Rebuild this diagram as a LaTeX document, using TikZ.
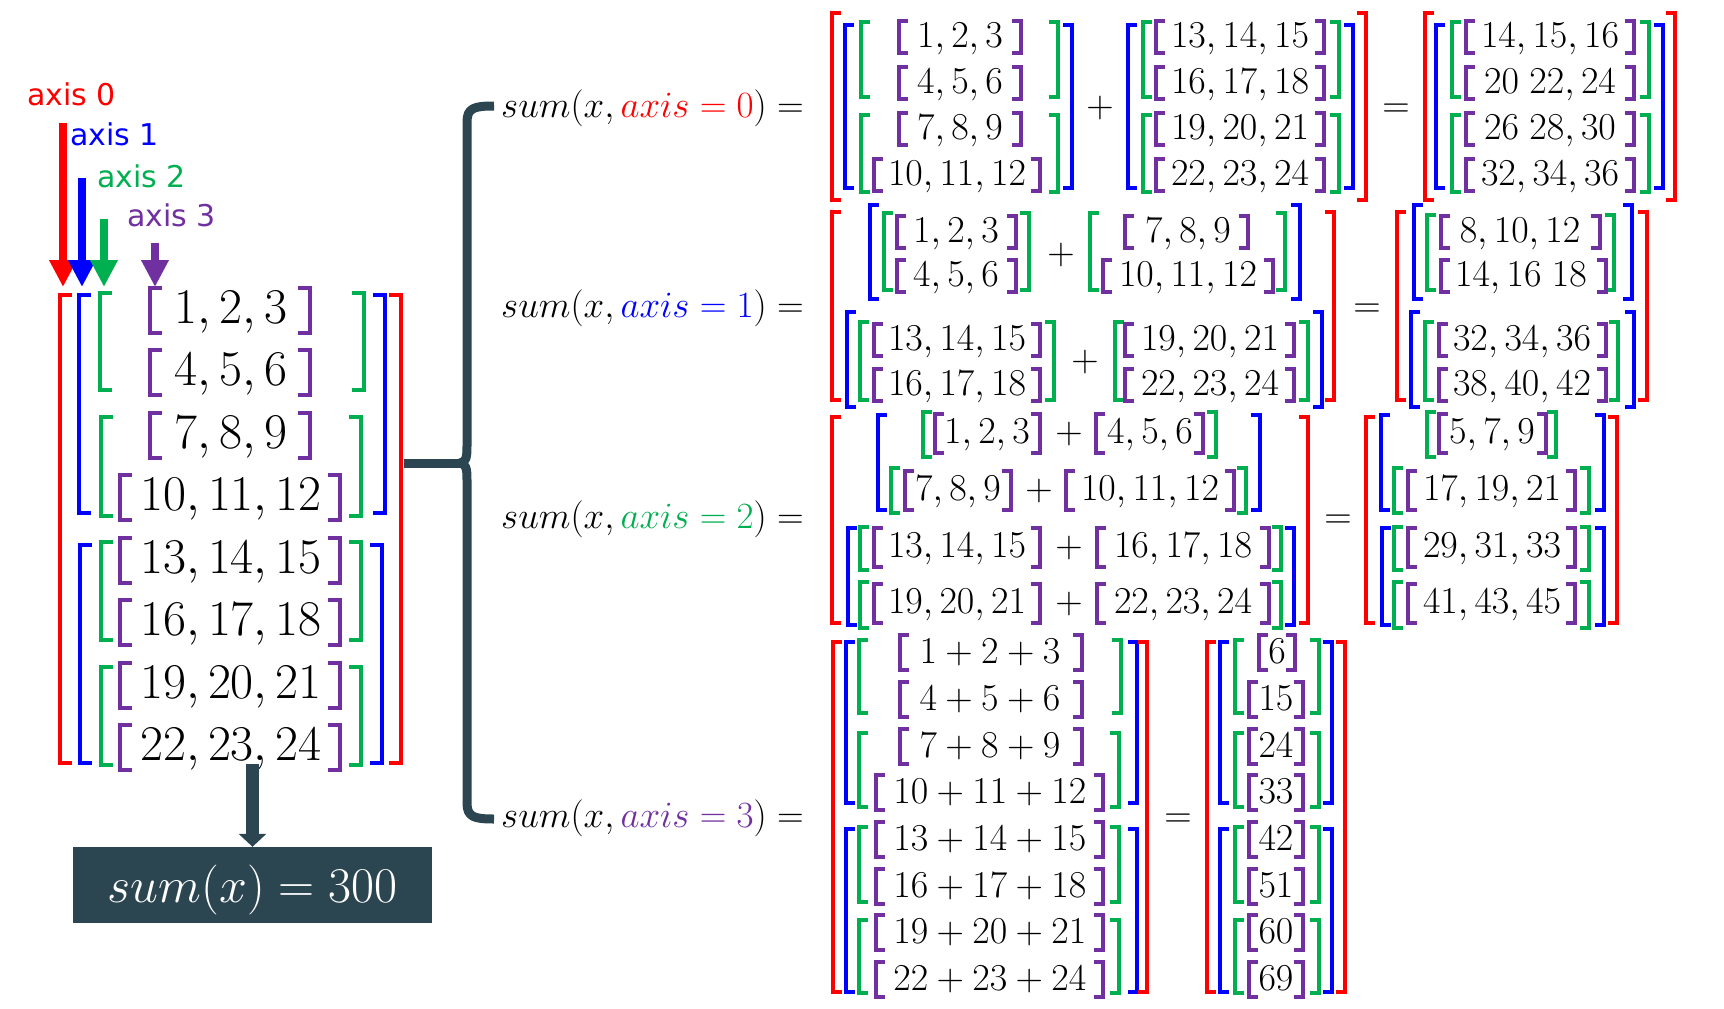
\RequirePackage{fix-cm}
\documentclass[tikz,border=0pt]{standalone}
\usepackage{fontspec}
\newfontfamily\axfont{DejaVu Sans}
\usetikzlibrary{arrows.meta,fit}
\definecolor{ar}{HTML}{FF0000}
\definecolor{ab}{HTML}{0000FF}
\definecolor{ag}{HTML}{00B050}
\definecolor{ap}{HTML}{7030A0}
\definecolor{dk}{HTML}{2B4650}
\newcommand\srl{9}
\newcommand\PUext{26}
\newcommand\PDext{6}
\newcommand\BrL[4]{\draw[#1] ({#2+\srl},{#3}) -- ({#2},{#3}) -- ({#2},{#4}) -- ({#2+\srl},{#4});}
\newcommand\BrR[4]{\draw[#1] ({#2-\srl},{#3}) -- ({#2},{#3}) -- ({#2},{#4}) -- ({#2-\srl},{#4});}
\newcommand\BrP[5]{\BrL{#1}{#2}{#4}{#5}\BrR{#1}{#3}{#4}{#5}}
% name, xl, xr, xc, baseline, content
\newcommand\PR[6]{\BrP{bk,ap}{#2}{#3}{#5-\PUext}{#5+\PDext}\node[num] (#1) at (#4,#5) {$#6$};}
\newcommand\lab[4]{\node[lbl] (#1) at (501,#2) {$sum(x,\textcolor{#3}{axis=#4})=$};}
\begin{document}
\begin{tikzpicture}[x=1pt,y=-1pt,
  bk/.style={line width=3.2pt,line join=miter},
  num/.style={anchor=base,inner sep=0pt,font=\fontsize{38}{40}\selectfont},
  lbl/.style={anchor=base west,inner sep=0pt,font=\fontsize{37}{40}\selectfont},
  axl/.style={anchor=base west,inner sep=0pt,font=\axfont\fontsize{30}{32}\selectfont},
  axarr/.style={line width=8pt,-{Triangle[width=26pt,length=27pt]}},
  dkline/.style={dk,line width=9pt}]
\fill[white] (0,0) rectangle (1724,1009);
\useasboundingbox (0,0) rectangle (1724,1009);

% ---------------- left tensor ----------------
\begin{scope}[bk/.style={line width=4.5pt,line join=miter},
  num/.style={anchor=base,inner sep=0pt,font=\fontsize{50}{52}\selectfont}]
\renewcommand\srl{12}\renewcommand\PUext{35}\renewcommand\PDext{10}
\BrP{bk,ar}{60}{401}{295}{763}
\BrP{bk,ab}{79}{385}{295}{513}
\BrP{bk,ab}{80}{382}{545}{763}
\BrP{bk,ag}{100}{364}{293}{390}
\BrP{bk,ag}{101}{361}{417}{516}
\BrP{bk,ag}{101}{361}{542}{640}
\BrP{bk,ag}{101}{361}{667}{765}
\PR{m1}{150}{310}{231}{323}{1,2,3}
\PR{m2}{150}{310}{231}{385}{4,5,6}
\PR{m3}{150}{310}{231}{448}{7,8,9}
\PR{m4}{120}{340}{231}{510}{10,11,12}
\PR{m5}{120}{340}{231}{573}{13,14,15}
\PR{m6}{120}{340}{231}{635}{16,17,18}
\PR{m7}{120}{340}{231}{698}{19,20,21}
\PR{m8}{120}{340}{231}{760}{22,23,24}
\end{scope}
\coordinate (matnw) at (56,286);
\coordinate (matse) at (404,764);
\node[fit=(matnw)(matse),inner sep=0pt] (mat) {};

% axis labels and arrows
\node[axl,ar] (l0) at (27,105) {axis 0};
\node[axl,ab] (l1) at (70,145) {axis 1};
\node[axl,ag] (l2) at (97,187) {axis 2};
\node[axl,ap] (l3) at (127,226) {axis 3};
\coordinate (a0s) at (63,123);  \coordinate (a0e) at (63,287);
\coordinate (a1s) at (82,178);  \coordinate (a1e) at (82,287);
\coordinate (a2s) at (104,219); \coordinate (a2e) at (104,287);
\coordinate (a3s) at (155,243); \coordinate (a3e) at (155,287);
\draw[axarr,ar] (a0s) -- (a0e);
\draw[axarr,ab] (a1s) -- (a1e);
\draw[axarr,ag] (a2s) -- (a2e);
\draw[axarr,ap] (a3s) -- (a3e);

% sum box
\node[fill=dk,minimum width=359pt,minimum height=76pt,inner sep=0pt] (sumbox) at (252.5,885) {};
\node[anchor=base,inner sep=0pt,text=white,font=\fontsize{50}{52}\selectfont] (sumtext) at (252.5,902) {$sum(x)=300$};
\draw[dk,line width=13pt,-{Triangle[width=27pt,length=13pt]}] (sumbox.north |- mat.south) -- (sumbox.north);

% brace connector
\coordinate (cusp) at (460,463);
\draw[dkline] (mat.east |- cusp) -- (cusp);
\draw[dkline,line join=round] (494,106) .. controls (474,106) and (467,108) .. (467,122)
  -- (467,446) .. controls (467,458) and (466,462) .. (cusp)
  .. controls (466,464) and (467,468) .. (467,480)
  -- (467,803) .. controls (467,817) and (474,819) .. (494,819);

% ---------------- axis 0 ----------------
\lab{s0}{117}{ar}{0}
\BrL{bk,ar}{832}{13}{200}
\BrL{bk,ab}{845}{25}{188}
\BrL{bk,ag}{861}{22}{97}
\BrL{bk,ag}{861}{115}{192}
\PR{a0a}{899}{1021}{960}{47}{1,2,3}
\PR{a0b}{899}{1021}{960}{93}{4,5,6}
\PR{a0c}{899}{1021}{960}{139}{7,8,9}
\PR{a0d}{874}{1040}{957}{185}{10,11,12}
\BrR{bk,ag}{1058}{22}{97}
\BrR{bk,ag}{1058}{115}{192}
\BrR{bk,ab}{1072}{25}{188}
\node[num] (p0) at (1100,117) {$+$};
\BrP{bk,ab}{1128}{1353}{25}{188}
\BrP{bk,ag}{1143}{1339}{22}{97}
\BrP{bk,ag}{1143}{1339}{115}{192}
\PR{a0e}{1156}{1324}{1240}{47}{13,14,15}
\PR{a0f}{1156}{1324}{1240}{93}{16,17,18}
\PR{a0g}{1156}{1324}{1240}{139}{19,20,21}
\PR{a0h}{1156}{1324}{1240}{185}{22,23,24}
\BrR{bk,ar}{1366}{13}{200}
\node[num] (q0) at (1396,117) {$=$};
\BrP{bk,ar}{1425}{1675}{13}{200}
\BrP{bk,ab}{1436}{1663}{25}{188}
\BrP{bk,ag}{1452}{1649}{22}{97}
\BrP{bk,ag}{1452}{1649}{115}{192}
\PR{r0a}{1466}{1634}{1550}{47}{14,15,16}
\PR{r0b}{1466}{1634}{1550}{93}{20\;22,24}
\PR{r0c}{1466}{1634}{1550}{139}{26\;28,30}
\PR{r0d}{1466}{1634}{1550}{185}{32,34,36}

% ---------------- axis 1 ----------------
\lab{s1}{317}{ab}{1}
\BrL{bk,ar}{832}{212}{400}
\BrL{bk,ab}{870}{205}{299}
\BrL{bk,ag}{884}{213}{290}
\PR{a1a}{897}{1016}{956}{242}{1,2,3}
\PR{a1b}{897}{1016}{956}{286}{4,5,6}
\BrR{bk,ag}{1029}{213}{290}
\node[num] (p1a) at (1061,264) {$+$};
\BrL{bk,ag}{1090}{213}{290}
\PR{a1c}{1125}{1248}{1188}{242}{7,8,9}
\PR{a1d}{1103}{1273}{1188}{286}{10,11,12}
\BrR{bk,ag}{1285}{213}{290}
\BrR{bk,ab}{1300}{205}{299}
\BrL{bk,ab}{847}{312}{407}
\BrL{bk,ag}{860}{322}{400}
\PR{a1e}{874}{1040}{957}{350}{13,14,15}
\PR{a1f}{874}{1040}{957}{395}{16,17,18}
\BrR{bk,ag}{1054}{322}{400}
\node[num] (p1b) at (1085,371) {$+$};
\BrL{bk,ag}{1115}{322}{400}
\PR{a1g}{1125}{1294}{1210}{350}{19,20,21}
\PR{a1h}{1125}{1294}{1210}{395}{22,23,24}
\BrR{bk,ag}{1308}{322}{400}
\BrR{bk,ab}{1322}{312}{407}
\BrR{bk,ar}{1334}{212}{400}
\node[num] (q1) at (1367,317) {$=$};
\BrP{bk,ar}{1397}{1647}{212}{400}
\BrP{bk,ab}{1414}{1632}{205}{299}
\BrP{bk,ag}{1427}{1614}{215}{290}
\PR{r1a}{1441}{1600}{1520}{242}{8,10,12}
\PR{r1b}{1441}{1606}{1521}{286}{14,16\;18}
\BrP{bk,ab}{1411}{1634}{312}{407}
\BrP{bk,ag}{1425}{1618}{322}{400}
\PR{r1c}{1439}{1606}{1522}{350}{32,34,36}
\PR{r1d}{1439}{1606}{1522}{395}{38,40,42}

% ---------------- axis 2 ----------------
\renewcommand\PUext{29}\renewcommand\PDext{10}
\lab{s2}{528}{ag}{2}
\BrL{bk,ar}{832}{417}{623}
\BrL{bk,ab}{878}{415}{510}
\BrL{bk,ag}{923}{412}{457}
\PR{a2a}{935}{1040}{987}{443}{1,2,3}
\node[num] (p2a) at (1069,443) {$+$};
\PR{a2b}{1096}{1203}{1150}{443}{4,5,6}
\BrR{bk,ag}{1216}{412}{457}
\BrL{bk,ag}{891}{468}{513}
\PR{a2c}{905}{1011}{958}{500}{7,8,9}
\node[num] (p2b) at (1039,500) {$+$};
\PR{a2d}{1066}{1234}{1150}{500}{10,11,12}
\BrR{bk,ag}{1246}{468}{513}
\BrR{bk,ab}{1260}{415}{510}
\BrL{bk,ab}{848}{528}{625}
\BrL{bk,ag}{860}{527}{570}
\PR{a2e}{874}{1040}{957}{557}{13,14,15}
\node[num] (p2c) at (1069,557) {$+$};
\PR{a2f}{1097}{1269}{1183}{557}{16,17,18}
\BrR{bk,ag}{1281}{527}{570}
\BrL{bk,ag}{860}{582}{628}
\PR{a2g}{874}{1040}{957}{613}{19,20,21}
\node[num] (p2d) at (1069,613) {$+$};
\PR{a2h}{1097}{1269}{1183}{613}{22,23,24}
\BrR{bk,ag}{1281}{582}{628}
\BrR{bk,ab}{1294}{528}{625}
\BrR{bk,ar}{1308}{417}{623}
\node[num] (q2) at (1338,528) {$=$};
\BrP{bk,ar}{1366}{1617}{417}{623}
\BrP{bk,ab}{1381}{1604}{415}{510}
\BrP{bk,ag}{1427}{1556}{412}{457}
\PR{r2a}{1439}{1546}{1492}{443}{5,7,9}
\BrP{bk,ag}{1394}{1589}{468}{513}
\PR{r2b}{1408}{1575}{1492}{500}{17,19,21}
\BrP{bk,ab}{1382}{1604}{528}{625}
\BrP{bk,ag}{1394}{1589}{527}{570}
\PR{r2c}{1408}{1575}{1492}{557}{29,31,33}
\BrP{bk,ag}{1394}{1589}{582}{628}
\PR{r2d}{1408}{1575}{1492}{613}{41,43,45}

% ---------------- axis 3 ----------------
\renewcommand\PUext{28}\renewcommand\PDext{7}
\lab{s3}{827}{ap}{3}
\BrL{bk,ar}{833}{642}{992}
\BrL{bk,ab}{846}{642}{803}
\BrL{bk,ab}{846}{829}{992}
\BrL{bk,ag}{859}{640}{713}
\BrL{bk,ag}{859}{733}{807}
\BrL{bk,ag}{859}{827}{902}
\BrL{bk,ag}{859}{920}{993}
\PR{a3a}{900}{1082}{990}{663}{1+2+3}
\PR{a3b}{900}{1082}{990}{710}{4+5+6}
\PR{a3c}{900}{1082}{990}{757}{7+8+9}
\PR{a3d}{876}{1103}{990}{803}{10+11+12}
\PR{a3e}{876}{1103}{990}{850}{13+14+15}
\PR{a3f}{876}{1103}{990}{897}{16+17+18}
\PR{a3g}{876}{1103}{990}{943}{19+20+21}
\PR{a3h}{876}{1103}{990}{990}{22+23+24}
\BrR{bk,ag}{1121}{640}{713}
\BrR{bk,ag}{1119}{733}{807}
\BrR{bk,ag}{1119}{827}{902}
\BrR{bk,ag}{1119}{920}{993}
\BrR{bk,ab}{1137}{642}{803}
\BrR{bk,ab}{1137}{829}{992}
\BrR{bk,ar}{1147}{642}{992}
\node[num] (q3) at (1178,827) {$=$};
\BrP{bk,ar}{1207}{1345}{642}{992}
\BrP{bk,ab}{1220}{1332}{642}{803}
\BrP{bk,ab}{1220}{1332}{829}{992}
\BrP{bk,ag}{1235}{1319}{640}{713}
\BrP{bk,ag}{1235}{1319}{733}{807}
\BrP{bk,ag}{1235}{1319}{827}{902}
\BrP{bk,ag}{1235}{1319}{920}{993}
\PR{r3a}{1259}{1295}{1277}{663}{6}
\PR{r3b}{1249}{1303}{1276}{710}{15}
\PR{r3c}{1249}{1303}{1276}{757}{24}
\PR{r3d}{1249}{1303}{1276}{803}{33}
\PR{r3e}{1249}{1303}{1276}{850}{42}
\PR{r3f}{1249}{1303}{1276}{897}{51}
\PR{r3g}{1249}{1303}{1276}{943}{60}
\PR{r3h}{1249}{1303}{1276}{990}{69}
\end{tikzpicture}
\end{document}
